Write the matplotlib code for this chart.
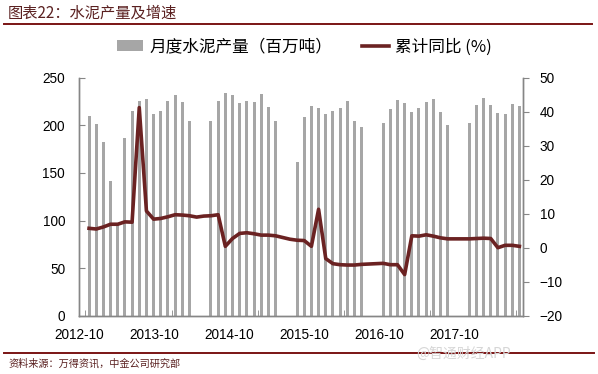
import numpy as np
import matplotlib
matplotlib.use('Agg')
import matplotlib.pyplot as plt
from matplotlib.lines import Line2D
from matplotlib.patches import Patch

plt.rcParams['font.family'] = ['Liberation Sans', 'Noto Sans CJK SC', 'DejaVu Sans']

# months 2012-10 .. 2017-10 (61 categories); Jan/Feb blanks from 2014 on
cement_output = [210, 201, 182, 142, 96, 187, 215, 225, 228, 212, 215, 225,
                 232, 224, 205, np.nan, np.nan, 205, 226, 234, 232, 223, 225, 224,
                 233, 219, 204, np.nan, np.nan, 161, 209, 220, 218, 212, 215, 218,
                 225, 205, 198, np.nan, np.nan, 202, 217, 227, 223, 214, 218, 224,
                 228, 214, 200, np.nan, np.nan, 202, 221, 229, 221, 213, 212, 222,
                 220]
cum_yoy = [5.7, 5.5, 6.1, 6.9, 6.9, 7.6, 7.5, 41.2, 10.8, 8.4, 8.6, 9.1,
           9.7, 9.6, 9.4, 9.0, 9.3, 9.4, 9.7, 0.4, 2.7, 4.2, 4.4, 4.1,
           3.7, 3.7, 3.5, 3.0, 2.5, 2.2, 2.1, 0.4, 11.3, -3.2, -4.7, -5.0,
           -5.1, -5.1, -4.9, -4.8, -4.7, -4.6, -5.0, -5.0, -7.9, 3.5, 3.4, 3.8,
           3.4, 2.9, 2.6, 2.6, 2.6, 2.6, 2.7, 2.8, 2.7, 0.0, 0.7, 0.7,
           0.4]
x_labels = ['2012-10', '2013-10', '2014-10', '2015-10', '2016-10', '2017-10']
label_pos = [-1.4, 9.07, 19.54, 30.01, 40.48, 50.95]

bar_color = '#A6A6A6'
line_color = '#6B2222'
rule_color = '#7A1414'
axis_color = '#868686'
cjk = ['Noto Sans CJK SC', 'DejaVu Sans']

x = np.arange(len(cement_output))

fig = plt.figure(figsize=(5.98, 3.74), dpi=100)
ax = fig.add_axes([79 / 598, 58.3 / 374, 444 / 598, 238 / 374])
ax2 = ax.twinx()

ax.bar(x, cement_output, width=0.42, color=bar_color, zorder=1)
ax2.plot(x, cum_yoy, color=line_color, lw=2.6, solid_joinstyle='round', zorder=3)

ax.set_xlim(-0.5, 60.5)
ax.set_ylim(0, 250)
ax.set_yticks(range(0, 251, 50))
ax2.set_ylim(-20, 50)
ax2.set_yticks(range(-20, 51, 10))

ax.set_xticks(label_pos)
ax.set_xticklabels(x_labels)
ax.set_xticks(np.arange(-0.5, 61, 12), minor=True)
ax.tick_params(axis='x', which='major', length=0, pad=9, labelsize=9.8)
ax.tick_params(axis='x', which='minor', direction='in', length=4, color=axis_color)
ax.tick_params(axis='y', direction='in', length=4, color=axis_color, labelsize=9.8, pad=10)
ax2.tick_params(axis='y', direction='out', length=4, color=axis_color, labelsize=9.8, pad=8)

for a in (ax, ax2):
    a.spines['top'].set_visible(False)
    for s in ('left', 'right', 'bottom'):
        a.spines[s].set_color(axis_color)
        a.spines[s].set_linewidth(1.0)

handles = [Patch(facecolor=bar_color, edgecolor='none'),
           Line2D([], [], color=line_color, lw=2.6)]
fig.legend(handles, ['月度水泥产量（百万吨）', '累计同比 (%)'], loc='center',
           bbox_to_anchor=(304 / 598, 1 - 47 / 374), ncol=2, frameon=False,
           prop={'family': cjk, 'size': 12},
           handlelength=1.6, handleheight=0.6, columnspacing=1.8, handletextpad=0.35)

fig.text(8 / 598, 1 - 13 / 374, '图表22：水泥产量及增速', color='#5A2020', fontsize=11,
         family=cjk, style='italic', va='center')
fig.add_artist(Line2D([4 / 598, 592 / 598], [1 - 24 / 374, 1 - 24 / 374], color=rule_color, lw=1.4))
fig.add_artist(Line2D([4 / 598, 594 / 598], [1 - 353 / 374, 1 - 353 / 374], color=rule_color, lw=1.4))
fig.text(8 / 598, 1 - 363.5 / 374, '资料来源：万得资讯，中金公司研究部', color='#5A2020', fontsize=7.3,
         family=cjk, style='italic', va='center')
fig.text(464 / 598, 1 - 354 / 374, '@智通财经APP', color='#D6D6D6', fontsize=10,
         family=cjk, ha='center', va='center')

fig.savefig('out.png', dpi=100)
